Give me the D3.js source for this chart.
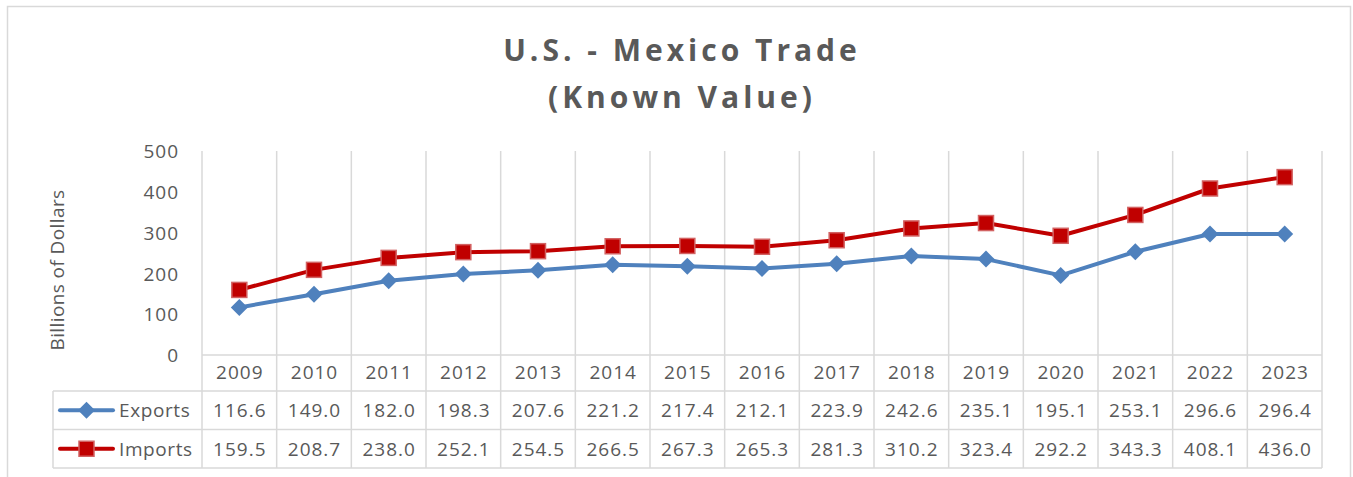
<!DOCTYPE html>
<html>
<head>
<meta charset="utf-8">
<script src="https://cdn.jsdelivr.net/npm/d3@7"></script>
<style>
  body { margin: 0; background: #fff; }
  text { font-family: "Open Sans", sans-serif; fill: #595959; }
</style>
</head>
<body>
<div id="chart"></div>
<script>
// chart data
var years = ["2009","2010","2011","2012","2013","2014","2015","2016","2017","2018","2019","2020","2021","2022","2023"];
var exportsVals = [116.6,149.0,182.0,198.3,207.6,221.2,217.4,212.1,223.9,242.6,235.1,195.1,253.1,296.6,296.4];
var importsVals = [159.5,208.7,238.0,252.1,254.5,266.5,267.3,265.3,281.3,310.2,323.4,292.2,343.3,408.1,436.0];
var yTicks = [0,100,200,300,400,500];
var seriesNames = ["Exports","Imports"];

var width = 1353, height = 477;
var plotLeft = 202, plotRight = 1322, plotTop = 151, plotBottom = 355;
var rowY = [355, 391, 429.5, 468];
var gridColor = "#d9d9d9";

var svg = d3.select("#chart").append("svg")
    .attr("width", width)
    .attr("height", height);

// outer chart border
svg.append("rect")
    .attr("x", 7.5).attr("y", 6.5)
    .attr("width", 1343).attr("height", 500)
    .attr("fill", "none")
    .attr("stroke", gridColor)
    .attr("stroke-width", 1.5);

// title
var title = svg.append("text")
    .attr("text-anchor", "middle")
    .style("font-size", "30px")
    .style("font-weight", "bold")
    .style("letter-spacing", "4px");
title.append("tspan").attr("x", 682).attr("y", 61).text("U.S. - Mexico Trade");
title.append("tspan").attr("x", 682).attr("y", 108).text("(Known Value)");

var x = d3.scaleBand().domain(years).range([plotLeft, plotRight]);
var y = d3.scaleLinear().domain([0, 500]).range([plotBottom, plotTop]);

// vertical grid lines at category boundaries (run down through the table)
var bounds = years.map(function(d){ return x(d); }).concat([plotRight]);
svg.append("g").selectAll("line")
    .data(bounds)
    .enter().append("line")
    .attr("x1", function(d){ return d; })
    .attr("x2", function(d){ return d; })
    .attr("y1", plotTop)
    .attr("y2", rowY[3])
    .attr("stroke", gridColor)
    .attr("stroke-width", 1.5);

// table horizontal lines
svg.append("line").attr("x1", plotLeft).attr("x2", plotRight).attr("y1", rowY[0]).attr("y2", rowY[0])
    .attr("stroke", gridColor).attr("stroke-width", 1.5);
[1,2,3].forEach(function(i){
    svg.append("line").attr("x1", 53).attr("x2", plotRight).attr("y1", rowY[i]).attr("y2", rowY[i])
        .attr("stroke", gridColor).attr("stroke-width", 1.5);
});
svg.append("line").attr("x1", 53).attr("x2", 53).attr("y1", rowY[1]).attr("y2", rowY[3])
    .attr("stroke", gridColor).attr("stroke-width", 1.5);

// y axis
var yAxis = svg.append("g")
    .attr("transform", "translate(" + (plotLeft - 23) + ",0)")
    .call(d3.axisLeft(y).tickValues(yTicks).tickSize(0).tickPadding(0));
yAxis.select(".domain").remove();
yAxis.selectAll("text")
    .attr("dy", "0.35em")
    .style("font-size", "19px")
    .style("letter-spacing", "1px")
    .style("fill", "#595959")
    .style("font-family", "'Open Sans', sans-serif");

svg.append("text")
    .attr("transform", "translate(64,270) rotate(-90)")
    .attr("text-anchor", "middle")
    .style("font-size", "19px")
    .style("letter-spacing", "0.4px")
    .text("Billions of Dollars");

// year row
svg.append("g").selectAll("text")
    .data(years)
    .enter().append("text")
    .attr("x", function(d){ return x(d) + x.bandwidth()/2 + 0.5; })
    .attr("y", 379)
    .attr("text-anchor", "middle")
    .style("font-size", "19px")
    .style("letter-spacing", "1px")
    .text(function(d){ return d; });

var series = [
    { name: seriesNames[0], values: exportsVals, color: "#4f81bd", shape: "diamond" },
    { name: seriesNames[1], values: importsVals, color: "#c00000", shape: "square" }
];

var line = d3.line()
    .x(function(d, i){ return x(years[i]) + x.bandwidth()/2; })
    .y(function(d){ return y(d); });

function drawMarker(g, s, cx, cy) {
    if (s.shape === "diamond") {
        g.append("path")
            .attr("d", "M0,-8.5L8.5,0L0,8.5L-8.5,0Z")
            .attr("transform", "translate(" + cx + "," + cy + ")")
            .attr("fill", s.color);
    } else {
        g.append("rect")
            .attr("x", cx - 7.5).attr("y", cy - 7.5)
            .attr("width", 15).attr("height", 15)
            .attr("fill", s.color)
            .attr("stroke", "#d26262")
            .attr("stroke-width", 1.5);
    }
}

series.forEach(function(s, si){
    svg.append("path")
        .datum(s.values)
        .attr("d", line)
        .attr("fill", "none")
        .attr("stroke", s.color)
        .attr("stroke-width", 4)
        .attr("stroke-linejoin", "round");
    var mg = svg.append("g");
    s.values.forEach(function(v, i){
        drawMarker(mg, s, x(years[i]) + x.bandwidth()/2, y(v));
    });

    // table row
    var cy = (rowY[si+1] + rowY[si+2]) / 2;
    svg.append("line")
        .attr("x1", 60).attr("x2", 113).attr("y1", cy).attr("y2", cy)
        .attr("stroke", s.color).attr("stroke-width", 4).attr("stroke-linecap", "round");
    drawMarker(svg, s, 86.5, cy);
    svg.append("text")
        .attr("x", 119).attr("y", cy + 7)
        .style("font-size", "19px")
        .style("letter-spacing", "0.6px")
        .text(s.name);
    svg.append("g").selectAll("text")
        .data(s.values)
        .enter().append("text")
        .attr("x", function(d, i){ return x(years[i]) + x.bandwidth()/2 + 0.5; })
        .attr("y", cy + 7)
        .attr("text-anchor", "middle")
        .style("font-size", "19px")
        .style("letter-spacing", "1px")
        .text(function(d){ return d.toFixed(1); });
});
</script>
</body>
</html>
